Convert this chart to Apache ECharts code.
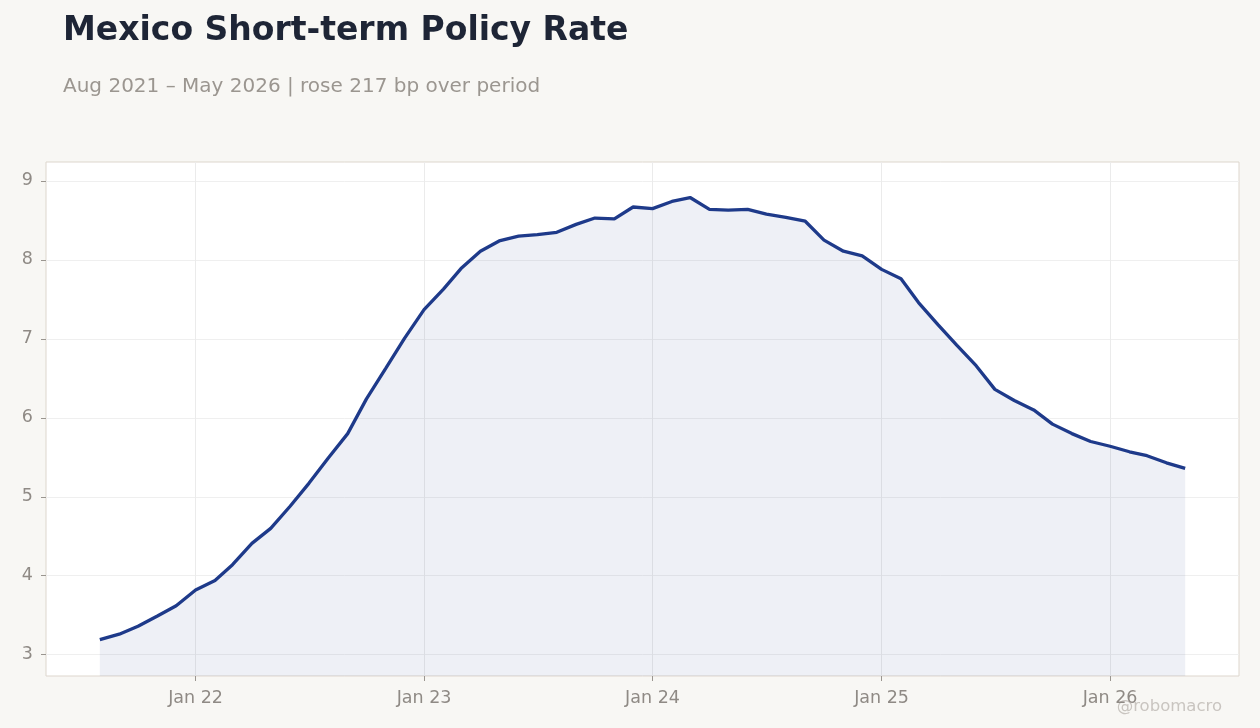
<!DOCTYPE html>
<html>
<head>
<meta charset="utf-8">
<title>Mexico Short-term Policy Rate</title>
<script src="https://cdn.jsdelivr.net/npm/echarts@6/dist/echarts.min.js"></script>
<style>
html, body{
  margin:0;
  padding:0;
  background-color:#f8f7f4;
}
#chart{
  width:1260px;
  height:728px;
}
</style>
</head>
<body>
<div id="chart"></div>
<script>
(function(){
	"use strict";

	// monthly observations, Aug 2021 - May 2026
	var months = [
		'2021-08','2021-09','2021-10','2021-11','2021-12',
		'2022-01','2022-02','2022-03','2022-04','2022-05','2022-06','2022-07','2022-08','2022-09','2022-10','2022-11','2022-12',
		'2023-01','2023-02','2023-03','2023-04','2023-05','2023-06','2023-07','2023-08','2023-09','2023-10','2023-11','2023-12',
		'2024-01','2024-02','2024-03','2024-04','2024-05','2024-06','2024-07','2024-08','2024-09','2024-10','2024-11','2024-12',
		'2025-01','2025-02','2025-03','2025-04','2025-05','2025-06','2025-07','2025-08','2025-09','2025-10','2025-11','2025-12',
		'2026-01','2026-02','2026-03','2026-04','2026-05'
	];
	var rates = [
		3.19, 3.26, 3.36, 3.49, 3.62,
		3.82, 3.94, 4.14, 4.41, 4.60, 4.88, 5.17, 5.49, 5.80, 6.24, 6.63, 7.01,
		7.37, 7.63, 7.89, 8.11, 8.24, 8.30, 8.32, 8.35, 8.45, 8.53, 8.52, 8.67,
		8.65, 8.74, 8.79, 8.64, 8.63, 8.64, 8.58, 8.54, 8.49, 8.25, 8.11, 8.05,
		7.88, 7.76, 7.46, 7.18, 6.92, 6.66, 6.36, 6.22, 6.10, 5.92, 5.80, 5.70,
		5.64, 5.57, 5.52, 5.43, 5.36
	];
	var yearTicks = ['2022-01','2023-01','2024-01','2025-01','2026-01'];
	var yTicks = [3, 4, 5, 6, 7, 8, 9];

	var FONT = 'DejaVu Sans';
	var GREY = '#8f8a85';
	var MON = ['Jan','Feb','Mar','Apr','May','Jun','Jul','Aug','Sep','Oct','Nov','Dec'];

	var toTime = function(ym){
		var p = ym.split('-');
		return Date.UTC(+p[0], +p[1] - 1, 1);
	};

	var init = function(){
		var chart = echarts.init(document.getElementById('chart'), null, {renderer: 'canvas'});
		var points = months.map(function(m, i){ return [toTime(m), rates[i]]; });
		var xTickValues = yearTicks.map(toTime);

		chart.setOption({
			animation: false,
			backgroundColor: '#f8f7f4',
			title: [{
				text: 'Mexico Short-term Policy Rate',
				left: 58, top: 10,
				textStyle: {fontFamily: FONT, fontSize: 33, fontWeight: 'bold', color: '#1e2536'}
			}, {
				text: 'Aug 2021 \u2013 May 2026 | rose 217 bp over period',
				left: 58, top: 72,
				textStyle: {fontFamily: FONT, fontSize: 20, fontWeight: 'normal', color: '#9b9690'}
			}],
			graphic: [{
				type: 'text',
				right: 38, top: 698,
				style: {text: '@robomacro', font: '16.5px "DejaVu Sans"', fill: '#c9c5c0'}
			}],
			grid: {
				left: 46, top: 162, right: 21, bottom: 52,
				show: true,
				backgroundColor: '#ffffff',
				borderColor: '#ddd6cd',
				borderWidth: 1
			},
			xAxis: {
				type: 'value',
				min: Date.UTC(2021, 4, 7),
				max: Date.UTC(2026, 6, 26),
				axisLine: {show: false},
				axisTick: {show: true, length: 5, customValues: xTickValues, lineStyle: {color: '#9a958f'}},
				axisLabel: {
					customValues: xTickValues,
					fontFamily: FONT, fontSize: 17.5, color: GREY, margin: 13,
					formatter: function(v){
						var d = new Date(v);
						return MON[d.getUTCMonth()] + ' ' + String(d.getUTCFullYear()).slice(2);
					}
				},
				splitLine: {show: true, lineStyle: {color: '#ebebeb', width: 1}}
			},
			yAxis: {
				type: 'value',
				min: 2.73,
				max: 9.24,
				axisLine: {show: false},
				axisTick: {show: true, length: 5, customValues: yTicks, lineStyle: {color: '#9a958f'}},
				axisLabel: {
					customValues: yTicks,
					fontFamily: FONT, fontSize: 17.5, color: GREY, margin: 13
				},
				splitLine: {show: true, lineStyle: {color: '#efefef', width: 1}}
			},
			series: [{
				type: 'line',
				data: points,
				showSymbol: false,
				symbol: 'none',
				lineStyle: {color: '#1e3a8a', width: 3.3},
				areaStyle: {color: 'rgba(30,50,130,0.105)', origin: 'start'},
				z: 3
			}]
		});
	};

	init();
})();
</script>
</body>
</html>
